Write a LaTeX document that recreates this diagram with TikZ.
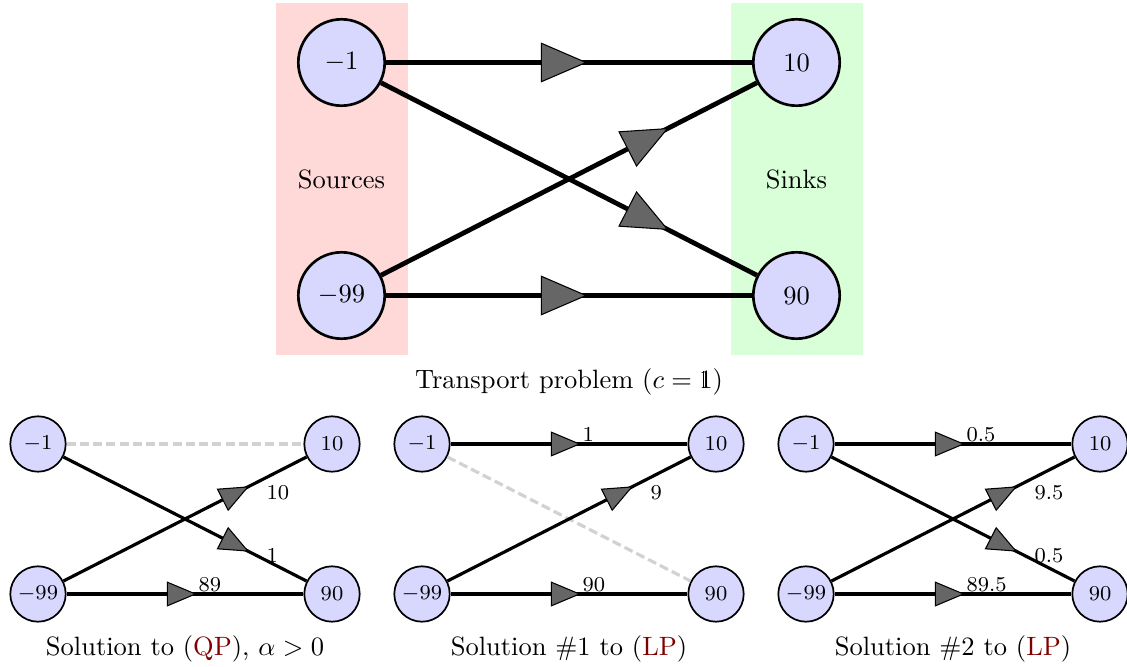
\documentclass[tikz,border=0pt]{standalone}
\usetikzlibrary{arrows.meta,decorations.markings}
\definecolor{nodefill}{RGB}{216,216,255}
\definecolor{srcfill}{RGB}{255,216,216}
\definecolor{snkfill}{RGB}{216,255,216}
\definecolor{arrfill}{RGB}{102,102,102}
\definecolor{dashgray}{RGB}{210,210,210}
\definecolor{linkred}{RGB}{128,0,0}
\newcommand\dsone{\mbox{\rlap{1}\kern0.14em\rule[0em]{0.035em}{0.655em}\kern0.325em}}
\tikzset{
  bignode/.style={circle, draw=black, line width=1pt, fill=nodefill, minimum size=32.6pt, inner sep=0pt, font=\normalsize},
  smallnode/.style={circle, draw=black, line width=0.65pt, fill=nodefill, minimum size=20.9pt, inner sep=0pt, font=\footnotesize},
  bigedge/.style={line width=1.8pt, postaction={decorate}, decoration={markings, mark=at position #1 with {\arrow{Triangle[length=17.5pt,width=15pt,fill=arrfill,line width=0.4pt]}}}},
  smalledge/.style={line width=1.2pt, postaction={decorate}, decoration={markings, mark=at position #1 with {\arrow{Triangle[length=11.3pt,width=9.4pt,fill=arrfill,line width=0.4pt]}}}},
  ghost/.style={line width=1.2pt, draw=dashgray, dash pattern=on 3.4pt off 1.6pt},
  flow/.style={font=\footnotesize, inner sep=0pt, anchor=base west},
  caption/.style={font=\normalsize, inner sep=0pt, anchor=base},
}
\begin{document}
\begin{tikzpicture}[x=0.37736pt, y=-0.37736pt]
\useasboundingbox (0,0) rectangle (1127,667);
% ---------- top: transport problem ----------
\fill[srcfill] (275.5,3) rectangle (407.5,355);
\fill[snkfill] (730.5,3) rectangle (862.5,355);
\node[caption] (srclab) at (341.5,189) {Sources};
\node[caption] (snklab) at (796.5,189) {Sinks};
\node[bignode] (s1) at (341.5,62.5) {$-1$};
\node[bignode] (t1) at (796.5,62.5) {$10$};
\node[bignode] (s2) at (341.5,295.5) {$-99$};
\node[bignode] (t2) at (796.5,295.5) {$90$};
\draw[bigedge=0.55] (s1) -- (t1);
\draw[bigedge=0.765] (s1) -- (t2);
\draw[bigedge=0.765] (s2) -- (t1);
\draw[bigedge=0.55] (s2) -- (t2);
\node[caption] (topcap) at (569,388) {Transport problem ($c = \dsone$)};
% ---------- panel 1: QP ----------
\begin{scope}[shift={(38,0)}]
\node[smallnode] (a1) at (0,444) {$-1$};
\node[smallnode] (b1) at (294,444) {$10$};
\node[smallnode] (c1) at (0,594) {$-99$};
\node[smallnode] (d1) at (294,594) {$90$};
\draw[ghost] (a1) -- (b1);
\draw[smalledge=0.765] (a1) -- (d1);
\draw[smalledge=0.765] (c1) -- (b1);
\draw[smalledge=0.55] (c1) -- (d1);
\node[flow] (f1a) at (228,499) {10};
\node[flow] (f1b) at (228,562) {1};
\node[flow] (f1c) at (160,591) {89};
\node[caption] (cap1) at (147,655) {Solution to (\textcolor{linkred}{QP}), $\alpha > 0$};
\end{scope}
% ---------- panel 2: LP #1 ----------
\begin{scope}[shift={(422,0)}]
\node[smallnode] (a2) at (0,444) {$-1$};
\node[smallnode] (b2) at (294,444) {$10$};
\node[smallnode] (c2) at (0,594) {$-99$};
\node[smallnode] (d2) at (294,594) {$90$};
\draw[ghost] (a2) -- (d2);
\draw[smalledge=0.55] (a2) -- (b2);
\draw[smalledge=0.765] (c2) -- (b2);
\draw[smalledge=0.55] (c2) -- (d2);
\node[flow] (f2a) at (160,441) {1};
\node[flow] (f2b) at (228,499) {9};
\node[flow] (f2c) at (160,591) {90};
\node[caption] (cap2) at (147,655) {Solution \#1 to (\textcolor{linkred}{LP})};
\end{scope}
% ---------- panel 3: LP #2 ----------
\begin{scope}[shift={(806,0)}]
\node[smallnode] (a3) at (0,444) {$-1$};
\node[smallnode] (b3) at (294,444) {$10$};
\node[smallnode] (c3) at (0,594) {$-99$};
\node[smallnode] (d3) at (294,594) {$90$};
\draw[smalledge=0.55] (a3) -- (b3);
\draw[smalledge=0.765] (a3) -- (d3);
\draw[smalledge=0.765] (c3) -- (b3);
\draw[smalledge=0.55] (c3) -- (d3);
\node[flow] (f3a) at (160,441) {0.5};
\node[flow] (f3b) at (228,499) {9.5};
\node[flow] (f3c) at (228,562) {0.5};
\node[flow] (f3d) at (160,591) {89.5};
\node[caption] (cap3) at (147,655) {Solution \#2 to (\textcolor{linkred}{LP})};
\end{scope}
\end{tikzpicture}
\end{document}
